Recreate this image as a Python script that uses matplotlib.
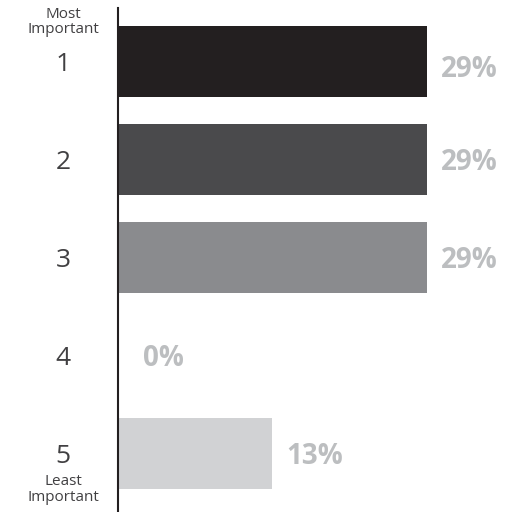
import matplotlib.pyplot as plt
from matplotlib.transforms import blended_transform_factory

# survey data: share of respondents per importance rank
ranks = ["1", "2", "3", "4", "5"]
shares = [28.6, 28.6, 28.6, 0, 14.3]
share_labels = ["29%", "29%", "29%", "0%", "13%"]
bar_colors = ["#231f20", "#4a4a4c", "#8a8b8e", "#d1d2d4", "#d1d2d4"]

plt.rcParams['font.family'] = ['Open Sans', 'DejaVu Sans']

fig = plt.figure(figsize=(5.17, 5.12), dpi=100)
ax = fig.add_axes([118 / 517, 0, 1 - 118 / 517, 504 / 512])

pos = list(range(len(ranks)))
ax.barh(pos, shares, height=0.724, color=bar_colors, zorder=2)

ax.set_ylim(4.6, -0.545)
ax.set_xlim(0, 36.95)

# value labels to the right of each bar
for p, v, lab in zip(pos, shares, share_labels):
    off = 18 if v == 0 else 10
    dy = -6 if p == 0 else -2
    ax.annotate(lab, xy=(v, p), xytext=(off, dy), textcoords='offset points',
                ha='left', va='center', fontsize=20, fontweight='bold',
                color='#bcbec0')

# rank labels on the left
ax.set_yticks(pos)
ax.set_yticklabels(ranks, fontsize=19, color='#414042', ha='center')
ax.tick_params(axis='y', length=0, pad=39.6)
ax.set_xticks([])

trans = blended_transform_factory(ax.transAxes, ax.transData)
ax.annotate("Most\nImportant", xy=(0, pos[0]), xycoords=trans,
            xytext=(-39.6, 28.5), textcoords='offset points',
            ha='center', va='center', fontsize=11, color='#414042',
            linespacing=1.05)
ax.annotate("Least\nImportant", xy=(0, pos[-1]), xycoords=trans,
            xytext=(-39.6, -26), textcoords='offset points',
            ha='center', va='center', fontsize=11, color='#414042',
            linespacing=1.05)

for s in ['top', 'right', 'bottom']:
    ax.spines[s].set_visible(False)
ax.spines['left'].set_color('#231f20')
ax.spines['left'].set_linewidth(1.5)

fig.savefig("out.png", dpi=100, facecolor='white')
